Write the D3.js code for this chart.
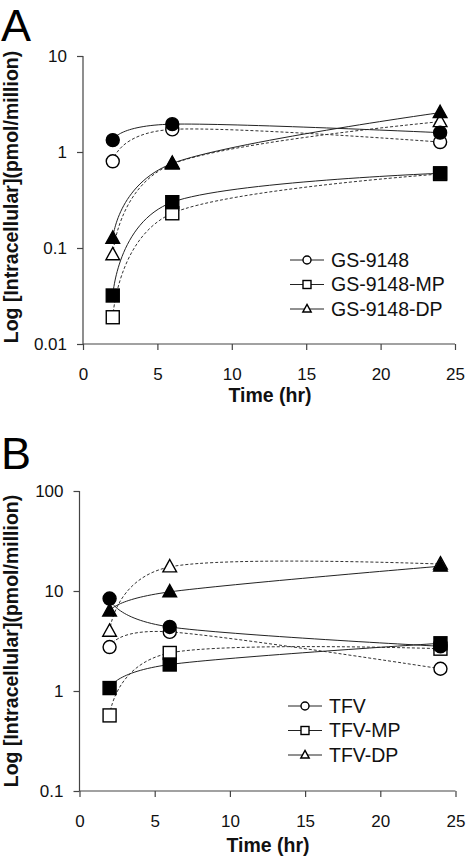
<!DOCTYPE html>
<html><head><meta charset="utf-8">
<script src="https://cdn.jsdelivr.net/npm/d3@7"></script>
<style>
html,body{margin:0;padding:0;background:#fff;}
svg{display:block;font-family:"Liberation Sans",Arial,sans-serif;}
</style></head>
<body>
<svg id="chart" width="466" height="857"></svg>
<script>
// ---- Data ----
const times = [2, 6, 24];
const xTicks = [0, 5, 10, 15, 20, 25];
const yTicksA = [0.01, 0.1, 1, 10];
const yTicksB = [0.1, 1, 10, 100];
const yTickLabelsA = ["0.01", "0.1", "1", "10"];
const yTickLabelsB = ["0.1", "1", "10", "100"];

// Panel A (filled = solid line, open = dashed line)
const gs9148Filled   = [1.33, 1.95, 1.59];
const gs9148Open     = [0.80, 1.72, 1.27];
const gs9148MPFilled = [0.032, 0.30, 0.60];
const gs9148MPOpen   = [0.019, 0.23, 0.59];
const gs9148DPFilled = [0.126, 0.76, 2.57];
const gs9148DPOpen   = [0.085, 0.75, 2.07];
const legendA = ["GS-9148", "GS-9148-MP", "GS-9148-DP"];

// Panel B
const tfvFilled   = [8.4, 4.37, 2.8];
const tfvOpen     = [2.75, 3.9, 1.67];
const tfvMPFilled = [1.07, 1.84, 3.0];
const tfvMPOpen   = [0.57, 2.4, 2.65];
const tfvDPFilled = [6.3, 9.8, 17.7];
const tfvDPOpen   = [3.95, 17.4, 18.6];
const legendB = ["TFV", "TFV-MP", "TFV-DP"];

const shapes = ["circle", "square", "triangle"];
const yTitle = "Log [Intracellular](pmol/million)";
const xTitle = "Time (hr)";

const svg = d3.select("#chart");

function marker(g, shape, cx, cy, size, filled) {
  const fill = filled ? "#000" : "#fff";
  if (shape === "circle") {
    g.append("circle").attr("cx", cx).attr("cy", cy).attr("r", size / 2)
      .attr("fill", fill).attr("stroke", "#000").attr("stroke-width", 1.4);
  } else if (shape === "square") {
    g.append("rect").attr("x", cx - size / 2).attr("y", cy - size / 2)
      .attr("width", size).attr("height", size)
      .attr("fill", fill).attr("stroke", "#000").attr("stroke-width", 1.4);
  } else {
    const h = size * 0.95, w = size * 1.05;
    g.append("path")
      .attr("d", `M${cx},${cy - h * 0.6}L${cx + w / 2},${cy + h * 0.4}L${cx - w / 2},${cy + h * 0.4}Z`)
      .attr("fill", fill).attr("stroke", "#000").attr("stroke-width", 1.4);
  }
}

function panel(opts) {
  const x = d3.scaleLinear().domain([0, 25]).range([opts.x0, opts.x1]);
  const y = d3.scaleLog().domain(opts.yDomain).range([opts.yBottom, opts.yTop]);
  const g = svg.append("g");

  // panel letter
  g.append("text").attr("x", 1).attr("y", opts.letterY).attr("font-size", 45)
    .attr("fill", "#000").text(opts.letter);

  // axes
  const xAxis = d3.axisBottom(x).tickValues(xTicks).tickSize(6).tickPadding(18)
    .tickFormat(d3.format("d"));
  const gx = g.append("g").attr("transform", `translate(0,${opts.yBottom})`).call(xAxis);
  const yAxis = d3.axisLeft(y).tickValues(opts.yTicks).tickSize(6).tickPadding(10)
    .tickFormat((d, i) => opts.yTickLabels[i]);
  const gy = g.append("g").attr("transform", `translate(${opts.x0},0)`).call(yAxis);
  [gx, gy].forEach(a => {
    a.select(".domain").attr("stroke", "#444").attr("stroke-width", 1.2)
      .attr("d", a === gx ? `M${opts.x0},0H${opts.x1}` : `M0,${opts.yBottom}V${opts.yTop}`);
    a.selectAll(".tick line").attr("stroke", "#444").attr("stroke-width", 1.2);
    a.selectAll(".tick text").attr("font-size", 17).attr("fill", "#111")
      .attr("font-family", "Liberation Sans, Arial, sans-serif");
  });

  // titles
  g.append("text").attr("x", opts.xTitleX).attr("y", opts.xTitleY)
    .attr("text-anchor", "middle").attr("font-weight", "bold").attr("font-size", 19.5)
    .attr("fill", "#111").text(xTitle);
  g.append("text").attr("transform", `translate(${opts.yTitleX},${opts.yTitleY}) rotate(-90)`)
    .attr("text-anchor", "middle").attr("font-weight", "bold").attr("font-size", 19.5)
    .attr("fill", "#111").text(yTitle);

  const line = d3.line().x(d => x(d[0])).y(d => y(d[1])).curve(d3.curveCardinal.tension(0));
  const pts = vals => times.map((t, i) => [t, vals[i]]);

  // dashed (open) series lines
  opts.open.forEach(vals => {
    g.append("path").attr("d", line(pts(vals))).attr("fill", "none")
      .attr("stroke", "#333").attr("stroke-width", 1).attr("stroke-dasharray", "3,2");
  });
  opts.filled.forEach(vals => {
    g.append("path").attr("d", line(pts(vals))).attr("fill", "none")
      .attr("stroke", "#222").attr("stroke-width", 1);
  });
  // markers: open first, then filled
  opts.open.forEach((vals, s) => {
    times.forEach((t, i) => marker(g, shapes[s], x(t), y(vals[i]), 13, false));
  });
  opts.filled.forEach((vals, s) => {
    times.forEach((t, i) => marker(g, shapes[s], x(t), y(vals[i]), 13, true));
  });

  // legend
  opts.legend.forEach((name, i) => {
    const ly = opts.legY + i * 24.5;
    g.append("line").attr("x1", opts.legX).attr("x2", opts.legX + 34)
      .attr("y1", ly).attr("y2", ly).attr("stroke", "#222").attr("stroke-width", 1);
    marker(g, shapes[i], opts.legX + 17, ly, 8, false);
    g.append("text").attr("x", opts.legX + 41).attr("y", ly).attr("dy", "0.35em")
      .attr("font-size", 19.5).attr("fill", "#111").text(name);
  });
}

panel({
  letter: "A", letterY: 41,
  x0: 83, x1: 455, yTop: 56, yBottom: 344, yDomain: [0.01, 10],
  yTicks: yTicksA, yTickLabels: yTickLabelsA,
  xTitleX: 270, xTitleY: 402, yTitleX: 18, yTitleY: 197,
  filled: [gs9148Filled, gs9148MPFilled, gs9148DPFilled],
  open: [gs9148Open, gs9148MPOpen, gs9148DPOpen],
  legend: legendA, legX: 290, legY: 260
});

panel({
  letter: "B", letterY: 469,
  x0: 79.5, x1: 455.5, yTop: 491, yBottom: 791, yDomain: [0.1, 100],
  yTicks: yTicksB, yTickLabels: yTickLabelsB,
  xTitleX: 268, xTitleY: 852, yTitleX: 18, yTitleY: 641,
  filled: [tfvFilled, tfvMPFilled, tfvDPFilled],
  open: [tfvOpen, tfvMPOpen, tfvDPOpen],
  legend: legendB, legX: 288, legY: 706
});
</script>
</body></html>
